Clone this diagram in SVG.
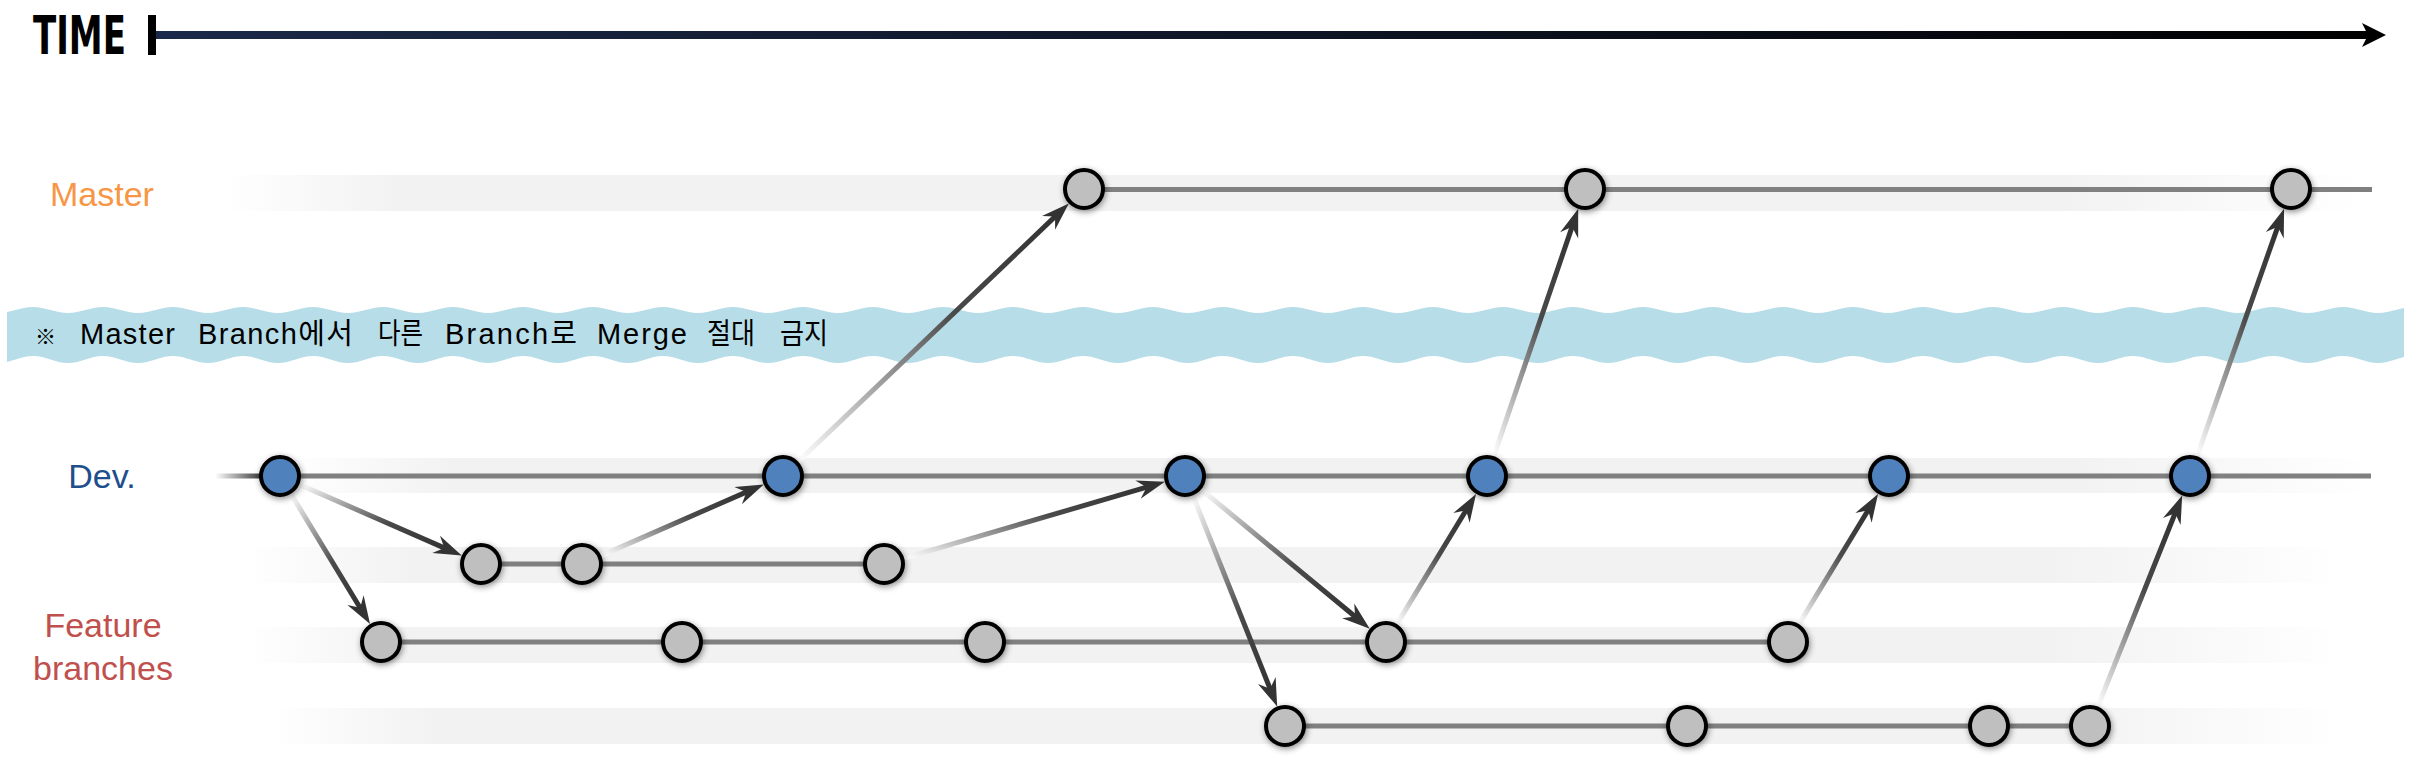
<svg xmlns="http://www.w3.org/2000/svg" width="2411" height="776" viewBox="0 0 2411 776">
<style>
.lbl{font-family:"Liberation Sans",Arial,sans-serif;font-size:34px;text-anchor:middle}
.band{fill:url(#gBand)}
.lane{stroke:#808080;stroke-width:5;fill:none}
.arr{stroke-width:5;fill:none;marker-end:url(#head)}
.dr{stroke:url(#gDR)}
.ur{stroke:url(#gUR)}
.nd{stroke:#000;stroke-width:4;filter:url(#sh)}
.blue{fill:#4f81bd}
.gray{fill:#bfbfbf}
.note{font-family:"Liberation Sans Narrow","Liberation Sans","Noto Sans CJK KR",sans-serif;font-size:29px;fill:#000}
</style>
<defs>
<linearGradient id="gBand" x1="0" y1="0" x2="1" y2="0">
<stop offset="0" stop-color="#f2f2f2" stop-opacity="0"/>
<stop offset="0.08" stop-color="#f2f2f2"/>
<stop offset="0.86" stop-color="#f2f2f2"/>
<stop offset="1" stop-color="#f2f2f2" stop-opacity="0"/>
</linearGradient>
<linearGradient id="gDR" x1="0" y1="0" x2="1" y2="1">
<stop offset="0" stop-color="#ffffff"/>
<stop offset="0.6" stop-color="#4a4a4a"/>
<stop offset="1" stop-color="#333"/>
</linearGradient>
<linearGradient id="gUR" x1="0" y1="1" x2="1" y2="0">
<stop offset="0" stop-color="#ffffff"/>
<stop offset="0.6" stop-color="#4a4a4a"/>
<stop offset="1" stop-color="#333"/>
</linearGradient>
<linearGradient id="gTime" x1="0" y1="0" x2="1" y2="0">
<stop offset="0" stop-color="#1b2a4a"/>
<stop offset="1" stop-color="#000"/>
</linearGradient>
<linearGradient id="gLead" gradientUnits="userSpaceOnUse" x1="215" y1="0" x2="275" y2="0">
<stop offset="0" stop-color="#000" stop-opacity="0"/>
<stop offset="1" stop-color="#000"/>
</linearGradient>
<pattern id="waveTop" patternUnits="userSpaceOnUse" x="33" y="306" width="70" height="8">
<path d="M0,1 C12.6,1 22.4,7 35,7 C47.6,7 57.4,1 70,1 L70,8 L0,8 Z" fill="#b7dde8"/>
</pattern>
<pattern id="waveBot" patternUnits="userSpaceOnUse" x="33" y="355" width="70" height="9">
<path d="M0,0 L70,0 L70,1 C57.4,1 47.6,8 35,8 C22.4,8 12.6,1 0,1 Z" fill="#b7dde8"/>
</pattern>
<marker id="head" markerUnits="userSpaceOnUse" markerWidth="40" markerHeight="30" viewBox="-30 -15 40 30" refX="-18" refY="0" orient="auto" overflow="visible">
<path d="M0,0 L-28,-9.5 L-19,0 L-28,9.5 Z" fill="#333"/>
</marker>
<filter id="sh" x="-50%" y="-50%" width="200%" height="200%">
<feDropShadow dx="1" dy="2" stdDeviation="3" flood-color="#000" flood-opacity="0.45"/>
</filter>
</defs>

<g id="timeline">
<text x="33" y="54" font-family="'DejaVu Sans Condensed','DejaVu Sans',sans-serif" font-weight="bold" font-size="54" textLength="93" lengthAdjust="spacingAndGlyphs" fill="#000">TIME</text>
<rect x="148" y="15" width="8" height="40" fill="#000"/>
<rect x="156" y="31" width="2212" height="8" fill="url(#gTime)"/>
<path d="M2386,35 L2362,23 L2368,35 L2362,47 Z" fill="#000"/>
</g>

<g id="bands">
<rect class="band" x="225" y="175" width="2140" height="36"/>
<rect class="band" x="285" y="458" width="2090" height="35"/>
<rect class="band" x="245" y="547" width="2100" height="36"/>
<rect class="band" x="245" y="627" width="2100" height="36"/>
<rect class="band" x="270" y="708" width="2075" height="36"/>
</g>

<g id="labels">
<text class="lbl" x="102" y="206" fill="#f79646">Master</text>
<text class="lbl" x="102" y="488" fill="#1f4e8c">Dev.</text>
<text class="lbl" x="103" y="637" fill="#c0504d">Feature</text>
<text class="lbl" x="103" y="680" fill="#c0504d">branches</text>
</g>

<g id="banner">
<rect x="7" y="306" width="2397" height="8" fill="url(#waveTop)"/>
<rect x="7" y="313" width="2397" height="43" fill="#b7dde8"/>
<rect x="7" y="355" width="2397" height="9" fill="url(#waveBot)"/>
<text class="note" y="344"><tspan x="35" font-family="'Noto Sans CJK KR',sans-serif" font-size="21">※</tspan> <tspan x="80" textLength="95">Master</tspan> <tspan x="198" textLength="155">Branch에서</tspan> <tspan x="378" textLength="45" lengthAdjust="spacingAndGlyphs">다른</tspan> <tspan x="445" textLength="132">Branch로</tspan> <tspan x="597" textLength="90">Merge</tspan> <tspan x="707" textLength="48" lengthAdjust="spacingAndGlyphs">절대</tspan> <tspan x="780" textLength="48" lengthAdjust="spacingAndGlyphs">금지</tspan></text>
</g>

<g id="connectors">
<line class="lane" x1="1084" y1="189.5" x2="2372" y2="189.5"/>
<line x1="215" y1="476" x2="280" y2="476" stroke="url(#gLead)" stroke-width="5"/>
<line class="lane" x1="280" y1="476" x2="2371" y2="476"/>
<line class="lane" x1="481" y1="564" x2="884" y2="564"/>
<line class="lane" x1="381" y1="642" x2="1788" y2="642"/>
<line class="lane" x1="1285" y1="726" x2="2090" y2="726"/>

<line class="arr dr" x1="299.2" y1="484.4" x2="445.3" y2="548.4"/>
<line class="arr dr" x1="290.9" y1="493.9" x2="360.7" y2="608.7"/>
<line class="arr ur" x1="601.2" y1="555.6" x2="747.3" y2="491.6"/>
<line class="arr ur" x1="798.2" y1="461.5" x2="1055.8" y2="215.9"/>
<line class="arr ur" x1="904.2" y1="558.1" x2="1147.6" y2="486.9"/>
<line class="arr dr" x1="1201.2" y1="489.4" x2="1355.9" y2="617.2"/>
<line class="arr dr" x1="1192.8" y1="495.5" x2="1270.5" y2="689.8"/>
<line class="arr ur" x1="1396.9" y1="624.1" x2="1466.7" y2="509.3"/>
<line class="arr ur" x1="1493.8" y1="456.1" x2="1572.4" y2="225.9"/>
<line class="arr ur" x1="1798.9" y1="624.1" x2="1868.7" y2="509.3"/>
<line class="arr ur" x1="2097.8" y1="706.5" x2="2175.5" y2="512.2"/>
<line class="arr ur" x1="2197" y1="456.2" x2="2278.1" y2="225.8"/>
</g>

<g id="master-1"><circle class="nd gray" cx="1084" cy="189" r="19"/></g>
<g id="master-2"><circle class="nd gray" cx="1585" cy="189" r="19"/></g>
<g id="master-3"><circle class="nd gray" cx="2291" cy="189" r="19"/></g>

<g id="dev-1"><circle class="nd blue" cx="280" cy="476" r="19"/></g>
<g id="dev-2"><circle class="nd blue" cx="783" cy="476" r="19"/></g>
<g id="dev-3"><circle class="nd blue" cx="1185" cy="476" r="19"/></g>
<g id="dev-4"><circle class="nd blue" cx="1487" cy="476" r="19"/></g>
<g id="dev-5"><circle class="nd blue" cx="1889" cy="476" r="19"/></g>
<g id="dev-6"><circle class="nd blue" cx="2190" cy="476" r="19"/></g>

<g id="f1-1"><circle class="nd gray" cx="481" cy="564" r="19"/></g>
<g id="f1-2"><circle class="nd gray" cx="582" cy="564" r="19"/></g>
<g id="f1-3"><circle class="nd gray" cx="884" cy="564" r="19"/></g>

<g id="f2-1"><circle class="nd gray" cx="381" cy="642" r="19"/></g>
<g id="f2-2"><circle class="nd gray" cx="682" cy="642" r="19"/></g>
<g id="f2-3"><circle class="nd gray" cx="985" cy="642" r="19"/></g>
<g id="f2-4"><circle class="nd gray" cx="1386" cy="642" r="19"/></g>
<g id="f2-5"><circle class="nd gray" cx="1788" cy="642" r="19"/></g>

<g id="f3-1"><circle class="nd gray" cx="1285" cy="726" r="19"/></g>
<g id="f3-2"><circle class="nd gray" cx="1687" cy="726" r="19"/></g>
<g id="f3-3"><circle class="nd gray" cx="1989" cy="726" r="19"/></g>
<g id="f3-4"><circle class="nd gray" cx="2090" cy="726" r="19"/></g>
</svg>
